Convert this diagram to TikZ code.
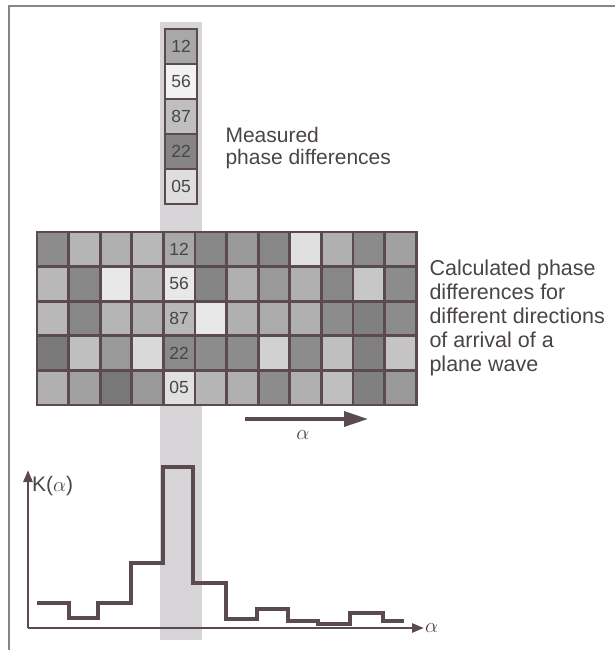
\documentclass[tikz,border=0pt]{standalone}
\usepackage{fontspec}
\setmainfont{Liberation Sans}
\usepackage{amsmath}
\usepackage{xcolor}
\usetikzlibrary{arrows.meta}

\definecolor{lineCol}{HTML}{5B4B50}
\definecolor{textCol}{HTML}{4A4446}
\definecolor{stripCol}{HTML}{D6D4D6}
\definecolor{frameCol}{HTML}{8A8488}

\begin{document}
\begin{tikzpicture}[x=1pt, y=-1pt]
% Define styles
\tikzstyle{measBox}=[rectangle, minimum width=32pt, minimum height=35pt, inner sep=0pt, draw=lineCol, line width=2.2pt, text=textCol, font=\fontsize{17.5}{17.5}\selectfont]
\tikzstyle{gridCell}=[draw=lineCol, line width=2.8pt]
\tikzstyle{numText}=[text=textCol, font=\fontsize{17.5}{17.5}\selectfont]
\tikzstyle{labelText}=[anchor=west, align=left, text=textCol, font=\fontsize{21.5}{24}\selectfont]
\tikzstyle{axisLine}=[-{Triangle[length=12pt, width=9pt]}, lineCol, line width=2.6pt]
\tikzstyle{stepLine}=[lineCol, line width=3.4pt]

\useasboundingbox (0,0) rectangle (615,650);

% Frame and shaded column
\draw[frameCol, line width=1.5pt] (615,6) -- (9,6) -- (9,650);
\fill[stripCol] (160,22) rectangle (202,640);

% Measured phase differences
\node[measBox, fill=black!34] (meas1) at (181,46.5) {12};
\node[measBox, fill=black!5] (meas2) at (181,81.5) {56};
\node[measBox, fill=black!25] (meas3) at (181,116.5) {87};
\node[measBox, fill=black!48] (meas4) at (181,151.5) {22};
\node[measBox, fill=black!13] (meas5) at (181,186.5) {05};

\node[labelText, font=\fontsize{21}{22}\selectfont] (measText) at (222,148) {Measured\\phase differences};

% Calculated phase differences
\foreach \row/\shades in {1/{45,29,31,28,34,47,40,47,12,31,46,37},
                          2/{28,47,9,29,9,48,31,40,31,47,22,45},
                          3/{28,47,29,31,28,9,31,33,31,45,50,45},
                          4/{52,25,40,15,46,45,45,18,45,25,50,23},
                          5/{31,37,53,40,12,29,31,45,31,25,50,40}}
{
  \foreach \s [count=\col] in \shades
    \draw[gridCell, fill=black!\s] ({37+31.6*(\col-1)},{232+34.6*(\row-1)}) rectangle ++(31.6,34.6);
}
\node[numText] (calc1) at (179.2,249.3) {12};
\node[numText] (calc2) at (179.2,283.9) {56};
\node[numText] (calc3) at (179.2,318.5) {87};
\node[numText] (calc4) at (179.2,353.1) {22};
\node[numText] (calc5) at (179.2,387.7) {05};

\node[labelText] (calcText) at (426,318) {Calculated phase\\differences for\\different directions\\of arrival of a\\plane wave};

% Direction axis
\coordinate (dirStart) at (245,419);
\coordinate (dirEnd) at (368,419);
\draw[-{Triangle[length=24pt, width=15pt]}, lineCol, line width=3.4pt] (dirStart) -- (dirEnd);
\node[text=textCol, font=\fontsize{21}{21}\selectfont] (dirLabel) at (303,435) {$\alpha$};

% Correlation function
\coordinate (origin) at (28,628);
\coordinate (yTop) at (28,470);
\coordinate (xEnd) at (424,628);
\draw[axisLine] (origin) -- (yTop);
\draw[axisLine] (origin) -- (xEnd);
\node[anchor=west, text=textCol, font=\fontsize{21}{21}\selectfont, inner sep=1pt] (kLabel) at (31,486) {K($\alpha$)};
\node[anchor=west, text=textCol, font=\fontsize{21}{21}\selectfont, inner sep=1pt] (xLabel) at (xEnd) {$\alpha$};

\draw[stepLine] (37,603) -| (69,618) -| (98,603) -| (131,563) -| (163,467)
  -| (193,583) -| (226,619) -| (257,609) -| (288,621) -| (318,624)
  -| (350,613) -| (383,621) -- (404,621);
\end{tikzpicture}
\end{document}
